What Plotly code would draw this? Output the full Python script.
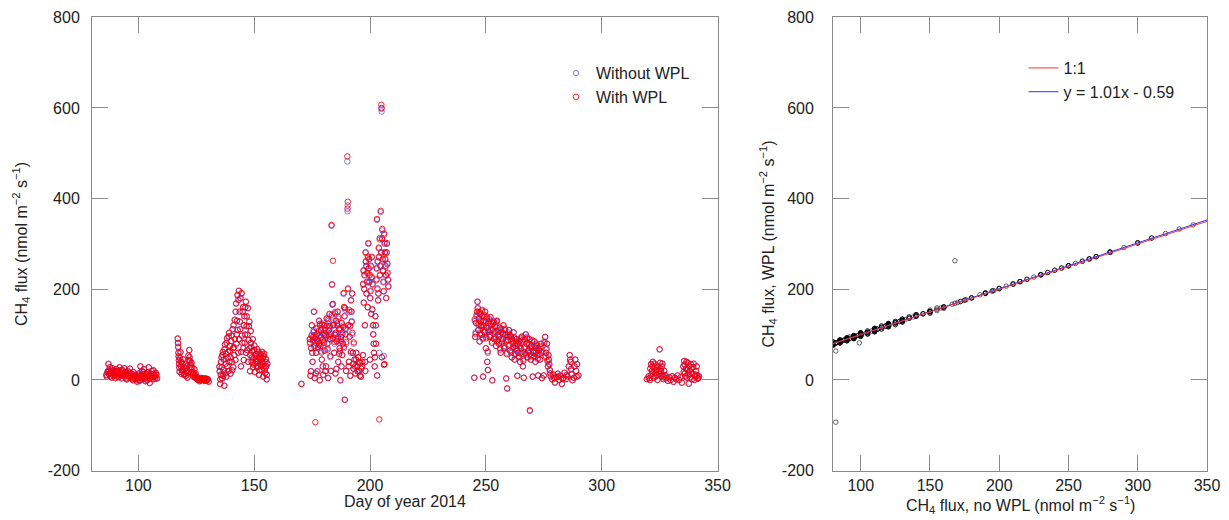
import plotly.graph_objects as go

# ---------------- data ----------------
doy = [
    86.2, 86.7, 87.1, 87.5, 87.9, 88.3, 88.8, 89.2, 89.6, 90.1, 90.5, 91.0, 91.4, 91.9, 92.3, 92.8, 93.2,
    93.7, 94.1, 94.6, 95.0, 95.5, 95.9, 96.4, 96.8, 97.3, 97.7, 98.2, 98.6, 99.1, 99.5, 100.0, 100.4,
    100.9, 101.3, 101.8, 102.2, 102.7, 103.1, 103.6, 104.0, 104.5, 104.9, 105.4, 105.8, 106.3, 106.7,
    107.2, 107.6, 108.1,
    117.0, 117.2, 117.4, 117.6, 117.8, 118.2, 118.5, 118.8, 119.2, 119.6, 120.0, 120.4, 120.8, 121.2,
    121.6, 122.0, 122.3, 122.6, 123.0, 123.4, 123.8, 124.2, 124.6, 125.0, 125.5, 126.0, 126.5, 127.0,
    127.5, 128.0, 128.5, 129.0, 129.5, 130.0, 130.4,
    135.0, 135.3, 135.6, 135.9, 136.2, 136.5, 136.8, 137.1, 137.4, 137.7, 138.0, 138.3, 138.6, 138.9,
    139.2, 139.5, 139.8, 140.1, 140.4, 140.7, 141.0, 141.3, 141.6, 141.9, 142.2, 142.5, 142.8, 143.1,
    143.4, 143.7, 144.0, 144.3, 144.6, 144.9, 145.2, 145.5, 145.8, 146.1, 146.4, 146.7, 147.0, 147.3,
    147.6, 147.9, 148.2, 148.5, 148.8, 149.1, 149.4, 149.7, 150.0, 150.3, 150.6, 150.9, 151.2, 151.5,
    151.8, 152.1, 152.4, 152.7, 153.0, 153.3, 153.6, 153.9, 154.2, 154.5, 154.8, 155.1, 155.4, 155.7,
    170.4, 174.0, 174.3, 174.6, 174.9, 175.2, 175.5, 175.8, 176.1, 176.4, 176.7, 177.0, 177.3, 177.6,
    178.0, 178.2, 178.3, 178.6, 178.9, 179.2, 179.5, 179.8, 180.1, 180.4, 180.7, 181.0, 181.3, 181.6,
    181.9, 182.2, 182.5, 182.8, 183.1, 183.4, 183.6, 183.8, 184.0, 184.2, 184.5, 184.8, 185.1, 185.4,
    185.7, 186.0, 186.3, 186.6, 186.9, 187.0, 187.2, 187.5, 187.8, 188.0, 188.3, 188.6, 188.8, 189.0,
    189.1, 189.4, 189.7, 190.2, 190.3, 190.4, 190.6, 190.9, 191.2, 191.5, 191.8, 192.0, 192.3, 192.6,
    192.9, 193.3, 193.7, 194.1, 194.5, 194.9, 195.3, 195.7, 196.1, 196.5, 196.9, 197.2, 197.5, 197.8,
    198.0, 198.1, 198.4, 198.7, 199.0, 199.3, 199.6, 199.9, 200.0, 200.2, 200.5, 200.8, 201.1, 201.4,
    201.7, 202.0, 202.3, 202.6, 202.9, 203.0, 203.1, 203.2, 203.5, 203.8, 204.0, 204.3, 204.6, 204.9,
    205.0, 205.1, 205.2, 205.5, 205.8, 206.0, 206.1, 206.2, 206.4, 206.7, 207.0, 207.3, 207.6, 207.9,
    245.0, 245.4, 245.8, 246.2, 246.4, 246.7, 247.0, 247.3, 247.6, 247.9, 248.2, 248.5, 248.8, 249.1,
    249.4, 249.7, 250.0, 250.3, 250.6, 250.9, 251.2, 251.6, 252.0, 252.4, 252.8, 253.2, 253.6, 254.0,
    254.4, 254.8, 255.2, 255.6, 256.0, 256.4, 256.8, 257.2, 257.6, 258.0, 258.4, 258.8, 259.2, 259.6,
    260.0, 260.4, 260.8, 261.2, 261.6, 262.0, 262.4, 262.8, 263.2, 263.6, 264.0, 264.4, 264.8, 265.2,
    265.6, 266.0, 266.4, 266.8, 267.2, 267.6, 268.0, 268.4, 268.8, 269.0, 269.4, 269.8, 270.2, 270.6,
    271.0, 271.4, 271.8, 272.2, 272.6, 273.0, 273.4, 273.8, 274.2, 275.0, 275.6, 276.0, 276.4, 276.8,
    277.2, 277.6, 278.0, 278.6, 279.2, 279.8, 280.4, 281.0, 281.6, 282.2, 282.8, 283.4, 284.0, 284.6,
    285.2, 285.8, 286.2, 286.6, 287.0, 287.4, 288.0, 288.6, 289.0, 289.4, 290.0,
    319.5, 320.2, 320.8, 321.3, 321.7, 322.1, 322.5, 322.9, 323.3, 323.7, 324.1, 324.6, 325.0, 325.4,
    325.8, 326.2, 326.6, 327.0, 327.5, 328.0, 328.6, 329.2, 329.8, 330.4, 331.0, 331.6, 332.2, 332.8,
    333.4, 334.0, 334.6, 335.2, 335.6, 336.0, 336.4, 336.8, 337.2, 337.6, 338.0, 338.5, 339.0, 339.5,
    340.0, 340.5, 341.0, 341.5, 342.0,
]

ch4_no_wpl = [
    12, 18, 36, 22, 8, 15, 26, 10, 20, 5, 24, 14, 18, 28, 12, 4, 22,
    16, 8, 12, 2, 20, 10, 25, 6, 14, 0, 10, 4, 8, -3, 6, 0,
    30, 12, 3, 18, 8, -2, 14, 6, 28, -6, 10, 20, 2, 14,
    8, 16, 4,
    92, 74, 52, 36, 18, 62, 40, 22, 46, 28, 14, 34, 20, 6,
    54, 66, 42, 26, 38, 18, 8, 24, 10, 6, 2, 4, -2, 5,
    1, 3, -1, 4, 0, 2, -3,
    30, -8, 12, 50, 4, 62, 22, -12, 78, 36, 8, 92, 48, 20,
    104, 64, 14, 86, 40, 112, 28, 72, 132, 44, 168, 100, 186, 60,
    196, 150, 112, 30, 190, 82, 160, 44, 140, 100, 172, 118, 66, 158,
    88, 128, 20, 108, 72, 50, 90, 34, 66, 18, 46, 58, 28, 42,
    62, 12, 48, 34, 56, 22, 40, 8, 52, 30, 16, 46, 2, 36,
    -8, 90, 10, 70, 120, 40, 95, 150, 5, 82, 60, 100, 20, 85,
    130, 99, 0, 75, 110, 45, 88, 12, 120, 65, 100, 30, 135, 80,
    5, 110, 145, 90, 20, 340, 210, 166, 168, 120, 60, 100, 15, 130,
    85, 150, 40, 112, 70, 82, 0, 95, 125, 55, 80, 190, 160, 140,
    -43, 100, 20, 482, 372, 385, 120, 40, 95, 10, 175, 150, 190, 60,
    25, 45, 15, 60, 30, 50, 20, 38, 8, 30, 55, 240, 200, 120,
    20, 280, 250, 215, 160, 300, 265, 230, 45, 195, 145, 270, 210, 100,
    60, 30, 140, 80, 245, 353, 10, 200, 175, 290, 60, 230, 370, 598,
    592, 50, 310, 265, 215, 53, 320, 35, 280, 250, 180, 300, 235, 205,
    5, 95, 125, 150, 172, 110, 135, 85, 145, 120, 100, 140, 8, 130,
    105, 150, 70, 115, 40, 22, 125, 95, 138, 110, 0, 125, 90, 118,
    75, 130, 100, 80, 115, 60, 105, 90, 120, 70, 100, 4, -18, 88,
    110, 65, 95, 50, 80, 105, 45, 75, 90, 10, 60, 85, 40, 70,
    95, 30, 5, 60, 100, 80, 50, 65, 90, -66, 45, 75, 8, 60,
    85, 40, 70, 55, 10, 65, 45, 80, 5, 10, 95, 60, 80, 30,
    45, 22, 8, 2, 12, -5, 6, 14, 0, 10, -8, 4, 16, 2,
    8, 30, 55, 40, 12, 0, 5, 45, 20, 35, 10,
    2, 8, 0, 35, 20, 40, 5, 28, 15, 32, 0, 18, 67, 25,
    8, 36, 2, 20, 10, 4, -2, 6, 0, 8, -4, 5, 2, 10,
    0, 6, -6, 30, 42, 15, 25, 5, 38, -8, 20, 35, 2, 28,
    0, 12, 30, 3, 8,
]

ch4_wpl = [
    11, 17, 35, 21, 8, 14, 26, 10, 19, 4, 24, 13, 18, 28, 11, 3, 22,
    15, 7, 11, 1, 19, 9, 25, 5, 13, -1, 9, 3, 7, -4, 5, -1,
    30, 11, 2, 17, 7, -3, 13, 5, 28, -7, 9, 20, 1, 13,
    7, 15, 3,
    91, 72, 52, 35, 18, 61, 40, 21, 46, 28, 13, 34, 19, 5,
    54, 66, 42, 25, 38, 17, 7, 24, 9, 5, 1, 3, -3, 4,
    0, 2, -2, 3, -1, 1, -4,
    29, -9, 11, 50, 3, 62, 22, -13, 78, 36, 7, 92, 48, 20,
    104, 64, 14, 86, 40, 112, 28, 72, 133, 44, 169, 100, 188, 60,
    197, 151, 112, 30, 192, 82, 161, 44, 141, 100, 173, 119, 66, 159,
    88, 129, 19, 108, 72, 50, 90, 34, 66, 17, 46, 58, 28, 42,
    62, 11, 48, 34, 56, 22, 40, 7, 52, 30, 15, 46, 1, 36,
    -9, 90, 9, 70, 121, 40, 95, 151, 4, -93, 60, 100, 19, 85,
    131, 82, -1, 75, 110, 45, 88, 11, 121, 65, 100, 30, 136, 80,
    4, 110, 146, 90, 20, 342, 211, 167, 263, 121, 60, 100, 14, 131,
    85, 151, 40, 112, 70, 64, -1, 95, 126, 55, 80, 192, 161, 141,
    -44, 101, 20, 493, 378, 393, 121, 40, 96, 9, 176, 151, 191, 60,
    25, 45, 14, 60, 30, 50, 20, 38, 7, 30, 55, 242, 201, 121,
    20, 282, 252, 217, 161, 302, 267, 232, 45, 197, 146, 272, 212, 101,
    60, 30, 141, 80, 247, 355, 10, 202, 176, 292, -87, 232, 373, 607,
    600, 50, 313, 267, 217, 33, 323, 35, 282, 252, 181, 302, 237, 207,
    5, 95, 126, 151, 173, 110, 136, 85, 146, 121, 100, 141, 7, 131,
    105, 151, 70, 116, 40, 22, 126, 95, 139, 110, -1, 126, 90, 119,
    75, 131, 100, 80, 116, 60, 105, 90, 121, 70, 100, 3, -19, 88,
    110, 65, 95, 50, 80, 105, 45, 75, 90, 9, 60, 85, 40, 70,
    96, 30, 5, 60, 101, 80, 50, 65, 90, -68, 45, 75, 7, 60,
    85, 40, 70, 55, 10, 65, 45, 80, 4, 10, 95, 60, 80, 30,
    45, 22, 8, 1, 12, -6, 6, 14, 0, 10, -9, 4, 16, 2,
    8, 30, 55, 40, 12, -1, 5, 45, 20, 35, 10,
    2, 8, 0, 35, 20, 40, 5, 28, 15, 32, 0, 18, 68, 25,
    8, 36, 2, 20, 10, 4, -2, 6, 0, 8, -4, 5, 2, 10,
    0, 6, -6, 30, 42, 15, 25, 5, 38, -8, 20, 35, 2, 28,
    0, 12, 30, 3, 8,
]

# additional half-hourly records filling the dense parts of each campaign
doy_extra = [
    86.4, 86.9, 87.3, 87.7, 88.1, 88.5, 89.0, 89.4, 89.8, 90.3, 90.7, 91.2, 91.6, 92.1, 92.5,
    93.0, 93.4, 93.9, 94.3, 94.8, 95.2, 95.7, 96.1, 96.6, 97.0, 97.5, 97.9, 98.4, 98.8, 99.3,
    99.8, 100.2, 100.6, 101.1, 101.5, 102.0, 102.4, 102.9, 103.3, 103.8, 104.2, 104.7, 105.1, 105.6,
    106.0, 106.5, 106.9, 107.4, 107.8,
    117.1, 117.3, 117.5, 117.7, 118.0, 118.4, 118.7, 119.0, 119.4, 119.8, 120.2, 120.6, 121.0, 121.4,
    121.8, 122.1, 122.5, 122.8, 123.2, 123.6, 124.0, 124.4, 124.8, 125.3, 125.8, 126.3, 126.8, 127.3,
    127.8, 128.3, 128.8, 129.3, 129.8,
    135.1, 135.4, 135.7, 136.0, 136.3, 136.6, 136.9, 137.2, 137.5, 137.8, 138.1, 138.4, 138.7, 139.0,
    139.3, 139.6, 139.9, 140.2, 140.5, 140.8, 141.1, 141.4, 141.7, 142.0, 142.3, 142.6, 142.9, 143.2,
    143.5, 143.8, 144.1, 144.4, 144.7, 145.0, 145.3, 145.6, 145.9, 146.2, 146.5, 146.8, 147.1, 147.4,
    147.7, 148.0, 148.3, 148.6, 148.9, 149.2, 149.5, 149.8, 150.1, 150.4, 150.7, 151.0, 151.3, 151.6,
    151.9, 152.2, 152.5, 152.8, 153.1, 153.4, 153.7, 154.0, 154.3, 154.6, 154.9, 155.2, 155.5,
    174.1, 174.5, 174.8, 175.1, 175.4, 175.7, 176.0, 176.3, 176.6, 176.9, 177.2, 177.5, 177.8, 178.1,
    178.4, 178.7, 179.0, 179.3, 179.6, 179.9, 180.2, 180.5, 180.8, 181.1, 181.4, 181.7, 182.0, 182.3,
    182.6, 182.9, 183.2, 183.5, 183.9, 184.3, 184.6, 184.9, 185.2, 185.5, 185.8, 186.1, 186.4, 186.7,
    187.1, 187.4, 187.7, 188.1, 188.4, 188.7, 189.2, 189.5, 189.8, 190.5, 190.8, 191.1, 191.4, 191.7,
    192.1, 192.4, 192.7, 193.0, 193.5, 194.0, 194.6, 195.1, 195.6, 196.2, 196.7, 197.0, 197.3, 197.6,
    197.9, 198.2, 198.5, 198.8, 199.1, 199.4, 199.7, 200.1, 200.4, 200.7, 201.0, 201.3, 201.6, 202.1,
    202.5, 202.8, 203.3, 203.6, 203.9, 204.2, 204.5, 204.8, 205.3, 205.6, 205.9, 206.3, 206.6, 206.9,
    207.2, 207.5, 207.8,
    245.2, 245.6, 246.0, 246.5, 246.9, 247.2, 247.5, 247.8, 248.1, 248.4, 248.7, 249.0, 249.3, 249.6,
    249.9, 250.2, 250.5, 250.8, 251.1, 251.4, 251.8, 252.2, 252.6, 253.0, 253.4, 253.8, 254.2, 254.6,
    255.0, 255.4, 255.8, 256.2, 256.6, 257.0, 257.4, 257.8, 258.2, 258.6, 259.0, 259.4, 259.8, 260.2,
    260.6, 261.0, 261.4, 261.8, 262.2, 262.6, 263.0, 263.4, 263.8, 264.2, 264.6, 265.0, 265.4, 265.8,
    266.2, 266.6, 267.0, 267.4, 267.8, 268.2, 268.6, 269.2, 269.6, 270.0, 270.4, 270.8, 271.2, 271.6,
    272.0, 272.4, 272.8, 273.2, 273.6, 274.0, 275.3, 275.8, 276.2, 276.6, 277.0, 277.4, 277.8, 279.5,
    281.3, 283.1, 284.9, 286.4, 286.8, 288.3, 289.2,
    320.5, 321.0, 321.5, 321.9, 322.3, 322.7, 323.1, 323.5, 323.9, 324.4, 324.8, 325.2, 325.6, 326.0,
    326.4, 326.8, 335.4, 335.8, 336.2, 336.6, 337.0, 337.4, 337.8, 338.2, 338.7, 339.2, 339.7, 340.2,
    340.7, 341.2, 341.7,
]

no_wpl_extra = [
    8, 20, 14, 28, 18, 6, 21, 16, 12, 19, 9, 20, 7, 15, 22,
    10, 14, 26, 18, 4, 14, 8, 17, 12, 9, 3, 18, 5, 12, 2,
    10, 15, -1, 6, 20, 10, 24, 4, 12, 0, 18, 10, 4, 14,
    8, 22, 10, 4, 12,
    82, 60, 44, 28, 48, 30, 14, 36, 20, 12, 26, 10, 30, 16,
    44, 50, 34, 18, 28, 12, 16, 6, 14, 4, 1, 3, 0, 2,
    4, 1, 3, -1, 2,
    20, 2, 40, 28, 55, 10, 45, 68, 15, 58, 82, 30, 62, 96,
    40, 75, 50, 98, 22, 70, 120, 55, 90, 150, 80, 130, 110, 176,
    90, 128, 180, 62, 98, 150, 70, 120, 82, 160, 60, 140, 100, 40,
    118, 70, 55, 82, 40, 64, 28, 48, 76, 36, 52, 40, 68, 30,
    50, 22, 58, 44, 30, 62, 48, 36, 58, 24, 40, 30, 12,
    80, 20, 100, 60, 85, 110, 72, 92, 15, 115, 90, 70, 105, 80,
    120, 95, 60, 125, 30, 100, 85, 110, 20, 95, 120, 70, 130, 100,
    115, 50, 105, 140, 90, 125, 80, 150, 100, 25, 120, 95, 135, 60,
    110, 90, 30, 100, 120, 70, 155, 115, 80, 200, 30, 150, 120, 60,
    130, 100, 35, 80, 30, 45, 20, 40, 10, 25, 40, 210, 170, 230,
    40, 260, 190, 235, 270, 245, 215, 180, 250, 225, 155, 120, 80, 50,
    120, 220, 260, 190, 270, 310, 250, 280, 330, 240, 195, 300, 265, 230,
    280, 255, 220,
    130, 105, 140, 160, 120, 150, 100, 130, 115, 155, 90, 120, 140, 110,
    125, 95, 135, 60, 110, 130, 100, 120, 85, 110, 130, 105, 95, 125,
    85, 110, 95, 70, 110, 85, 100, 75, 110, 85, 60, 95, 105, 75,
    100, 60, 90, 70, 95, 55, 85, 65, 80, 50, 75, 90, 60, 85,
    45, 70, 90, 55, 95, 60, 80, 70, 55, 85, 65, 50, 75, 60,
    80, 45, 70, 55, 75, 60, 85, 50, 70, 40, 55, 35, 15, 5,
    8, 3, 12, 45, 25, 30, 8,
    4, 25, 12, 30, 18, 36, 8, 22, 10, 28, 14, 38, 20, 30,
    12, 6, 18, 34, 8, 40, 22, 12, 30, 6, 25, 14, 36, 8,
    20, 10, 4,
]

wpl_extra = [
    7, 19, 13, 28, 17, 5, 21, 15, 11, 18, 8, 20, 6, 14, 22,
    9, 13, 26, 17, 3, 13, 7, 16, 11, 8, 2, 17, 4, 11, 1,
    9, 14, -2, 5, 19, 9, 24, 3, 11, -1, 17, 9, 3, 13,
    7, 21, 9, 3, 11,
    81, 60, 43, 27, 48, 30, 13, 36, 19, 11, 26, 9, 30, 15,
    44, 50, 34, 17, 28, 11, 15, 5, 13, 3, 0, 2, -1, 1,
    3, 0, 2, -2, 1,
    19, 1, 40, 28, 55, 9, 45, 68, 14, 58, 82, 30, 62, 96,
    40, 75, 50, 98, 21, 70, 121, 55, 90, 151, 80, 131, 110, 177,
    90, 129, 181, 62, 98, 151, 70, 121, 82, 161, 60, 141, 100, 40,
    119, 70, 55, 82, 40, 64, 28, 48, 76, 36, 52, 40, 68, 30,
    50, 21, 58, 44, 30, 62, 48, 36, 58, 23, 40, 30, 11,
    83, 19, 97, 60, 88, 106, 75, 95, 14, 113, 87, 73, 108, 77,
    124, 92, 63, 122, 30, 104, 82, 114, 19, 98, 118, 67, 134, 96,
    119, 53, 101, 144, 93, 122, 84, 147, 104, 24, 125, 91, 139, 57,
    114, 86, 30, 104, 117, 73, 159, 112, 84, 202, 30, 154, 118, 63,
    128, 104, 35, 83, 30, 45, 19, 40, 9, 25, 40, 212, 171, 232,
    40, 262, 191, 237, 272, 247, 217, 181, 252, 227, 156, 121, 80, 50,
    121, 222, 262, 191, 272, 313, 252, 282, 333, 242, 196, 303, 267, 232,
    282, 257, 222,
    134, 102, 144, 158, 124, 148, 103, 128, 119, 153, 93, 118, 144, 107,
    129, 92, 139, 63, 107, 134, 97, 124, 82, 113, 128, 108, 92, 129,
    88, 107, 98, 67, 113, 82, 103, 72, 113, 88, 57, 98, 102, 78,
    97, 63, 87, 73, 92, 58, 82, 68, 77, 53, 72, 93, 57, 88,
    42, 73, 87, 58, 92, 63, 77, 73, 52, 88, 62, 53, 72, 63,
    77, 48, 67, 58, 72, 63, 82, 53, 67, 43, 55, 35, 14, 4,
    7, 2, 11, 45, 24, 30, 7,
    4, 25, 12, 30, 18, 36, 8, 22, 10, 28, 14, 38, 20, 30,
    12, 6, 18, 34, 8, 40, 22, 12, 30, 6, 25, 14, 36, 8,
    20, 10, 4,
]

assert len(doy) == len(ch4_no_wpl) == len(ch4_wpl), (len(doy), len(ch4_no_wpl), len(ch4_wpl))
assert len(doy_extra) == len(no_wpl_extra) == len(wpl_extra), (len(doy_extra), len(no_wpl_extra), len(wpl_extra))

all_doy = doy + doy_extra
all_no_wpl = ch4_no_wpl + no_wpl_extra
all_wpl = ch4_wpl + wpl_extra

fit_slope = 1.01
fit_intercept = -0.59
line_x = [80, 350]

doy_ticks = [100, 150, 200, 250, 300, 350]
flux_ticks = [-200, 0, 200, 400, 600, 800]
flux_labels = ["-200", "0", "200", "400", "600", "800"]

# ---------------- figure ----------------
FONT = "Liberation Sans, Arial, Helvetica, sans-serif"
AX = "#8a8a8a"
W, H = 1221, 512   # page body keeps an 8 px margin

fig = go.Figure()

fig.add_trace(go.Scatter(
    x=all_doy, y=all_no_wpl, mode="markers", name="Without WPL",
    marker=dict(symbol="circle-open", size=5.5, color="rgba(0,0,255,0.5)", line=dict(width=1)),
    xaxis="x", yaxis="y", legend="legend"))
fig.add_trace(go.Scatter(
    x=all_doy, y=all_wpl, mode="markers", name="With WPL",
    marker=dict(symbol="circle-open", size=5.5, color="rgba(255,0,0,0.85)", line=dict(width=1)),
    xaxis="x", yaxis="y", legend="legend"))

fig.add_trace(go.Scatter(
    x=all_no_wpl, y=all_wpl, mode="markers", showlegend=False,
    marker=dict(symbol="circle-open", size=4.5, color="rgba(0,0,0,0.6)", line=dict(width=1)),
    xaxis="x2", yaxis="y2"))
fig.add_trace(go.Scatter(
    x=line_x, y=[fit_slope * v + fit_intercept for v in line_x], mode="lines",
    name="y = 1.01x - 0.59", line=dict(color="#3030ff", width=1),
    xaxis="x2", yaxis="y2", legend="legend2", legendrank=2))
fig.add_trace(go.Scatter(
    x=line_x, y=line_x, mode="lines", name="1:1",
    line=dict(color="#ff3030", width=1),
    xaxis="x2", yaxis="y2", legend="legend2", legendrank=1))

axis_common = dict(
    showline=True, linecolor=AX, linewidth=1, mirror="ticks",
    ticks="inside", ticklen=16, tickcolor=AX, tickwidth=1,
    showgrid=False, zeroline=False, automargin=False,
    tickfont=dict(family=FONT, size=16, color="#222"),
)

ytitle1 = "CH<sub>4</sub> flux (nmol m<sup>−2</sup> s<sup>−1</sup>)"
ytitle2 = "CH<sub>4</sub> flux, WPL (nmol m<sup>−2</sup> s<sup>−1</sup>)"
xtitle1 = "Day of year 2014"
xtitle2 = "CH<sub>4</sub> flux, no WPL (nmol m<sup>−2</sup> s<sup>−1</sup>)"

xd1 = [0.0688, 0.5811]
xd2 = [0.6757, 0.9820]
yd = [0.0963, 0.9820]

fig.update_layout(
    width=W, height=H,
    margin=dict(l=0, r=0, t=0, b=0, autoexpand=False),
    paper_bgcolor="white", plot_bgcolor="white",
    font=dict(family=FONT, size=16, color="#222"),
    xaxis=dict(axis_common, domain=xd1, range=[80, 350], tickvals=doy_ticks),
    yaxis=dict(axis_common, domain=yd, range=[-200, 800], tickvals=flux_ticks,
               ticktext=flux_labels, ticklabelstandoff=8,
               title=dict(text=ytitle1, standoff=16, font=dict(size=16))),
    xaxis2=dict(axis_common, domain=xd2, range=[80, 350], tickvals=doy_ticks, anchor="y2"),
    yaxis2=dict(axis_common, domain=yd, range=[-200, 800], tickvals=flux_ticks,
                ticktext=flux_labels, ticklabelstandoff=15,
                anchor="x2", title=dict(text=ytitle2, standoff=3, font=dict(size=16))),
    legend=dict(x=0.4488, y=0.906, xanchor="left", yanchor="top", bgcolor="rgba(0,0,0,0)",
                font=dict(family=FONT, size=16, color="#222"), tracegroupgap=0),
    legend2=dict(x=0.8317, y=0.916, xanchor="left", yanchor="top", bgcolor="rgba(0,0,0,0)",
                 font=dict(family=FONT, size=16, color="#222")),
    annotations=[
        dict(text=xtitle1, xref="paper", yref="paper", x=sum(xd1) / 2, y=1 - 493 / H,
             xanchor="center", yanchor="middle", showarrow=False, font=dict(size=16)),
        dict(text=xtitle2, xref="paper", yref="paper", x=sum(xd2) / 2, y=1 - 497 / H,
             xanchor="center", yanchor="middle", showarrow=False, font=dict(size=16)),
    ],
)

fig.write_html("out.html")
